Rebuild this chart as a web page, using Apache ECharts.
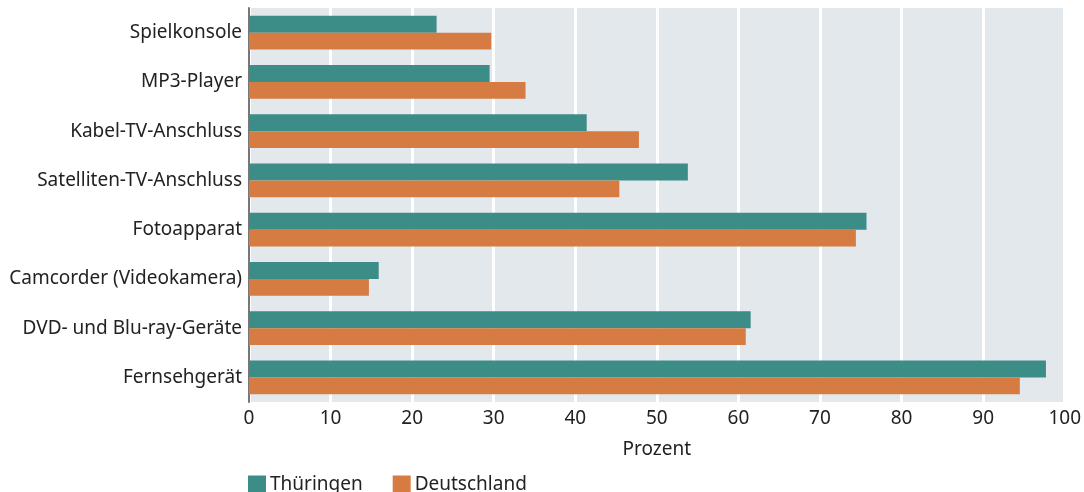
<!DOCTYPE html>
<html>
<head>
<meta charset="utf-8">
<script src="https://cdn.jsdelivr.net/npm/echarts@6/dist/echarts.min.js"></script>
<style>
  html, body { margin: 0; padding: 0; background: #fff; }
  #chart { width: 1084px; height: 492px; }
</style>
</head>
<body>
<div id="chart"></div>
<script>
// categories from top to bottom
const categories = ['Spielkonsole', 'MP3-Player', 'Kabel-TV-Anschluss', 'Satelliten-TV-Anschluss',
  'Fotoapparat', 'Camcorder (Videokamera)', 'DVD- und Blu-ray-Geräte', 'Fernsehgerät'];
const thueringen = [23.0, 29.5, 41.4, 53.8, 75.7, 15.9, 61.5, 97.7];
const deutschland = [29.7, 33.9, 47.8, 45.4, 74.4, 14.7, 60.9, 94.5];
const seriesNames = ['Thüringen', 'Deutschland'];

const font = 'Source Sans Pro, "Noto Sans", sans-serif';
let chart = echarts.init(document.getElementById('chart'));
chart.setOption({
  textStyle: { fontFamily: font },
  animation: false,
  legend: {
    left: 248, bottom: -2, padding: 0,
    itemWidth: 18, itemHeight: 18, itemGap: 30,
    icon: 'rect',
    textStyle: { fontSize: 19, color: '#222', padding: [0, 0, 0, -1] },
    data: seriesNames
  },
  grid: {
    left: 249, right: 17, top: 8, bottom: 90,
    show: true, backgroundColor: '#e3e8ec', borderWidth: 0
  },
  xAxis: {
    type: 'value', min: 0, max: 100, interval: 10,
    name: 'Prozent', nameLocation: 'middle', nameGap: 38,
    nameTextStyle: { fontSize: 19, color: '#222' },
    axisLine: { show: false }, axisTick: { show: false },
    axisLabel: { fontSize: 19, color: '#222', margin: 7 },
    splitLine: { lineStyle: { color: '#fff', width: 3 } }
  },
  yAxis: {
    type: 'category', inverse: true, data: categories,
    axisLine: { show: true, lineStyle: { color: '#777', width: 2 } },
    axisTick: { show: false },
    axisLabel: { fontSize: 19, color: '#222', margin: 7 }
  },
  series: [
    { name: seriesNames[0], type: 'bar', data: thueringen, itemStyle: { color: '#3c8c87' },
      barGap: 0, barCategoryGap: '31%' },
    { name: seriesNames[1], type: 'bar', data: deutschland, itemStyle: { color: '#d67b41' },
      barGap: 0, barCategoryGap: '31%' }
  ]
});
window.addEventListener('resize', function () { chart.resize(); });
</script>
</body>
</html>
